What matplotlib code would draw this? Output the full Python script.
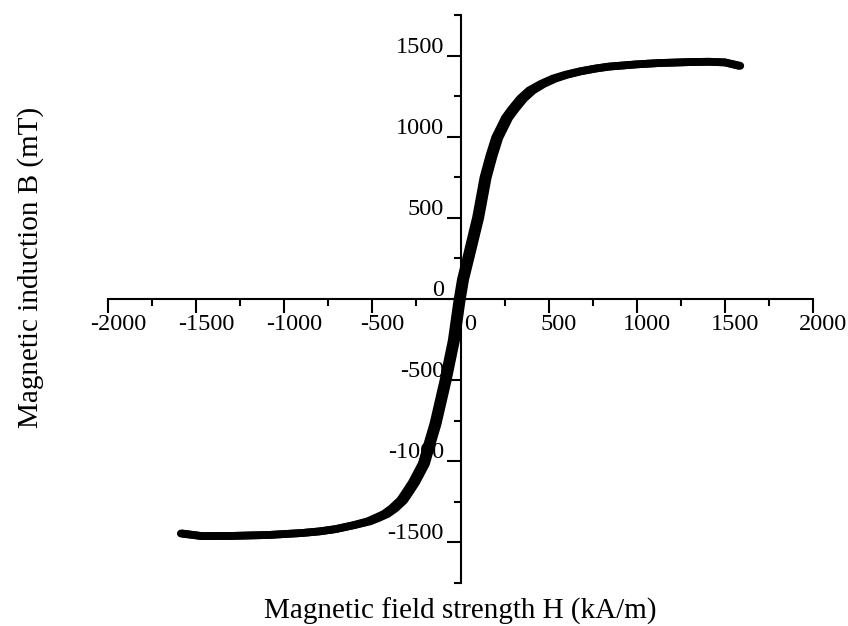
import matplotlib
matplotlib.use("Agg")

import matplotlib.pyplot as plt
import matplotlib.transforms as mtransforms
from matplotlib.ticker import MultipleLocator

plt.rcParams["font.family"] = ["Liberation Serif", "DejaVu Serif"]
plt.rcParams["axes.unicode_minus"] = False

# B-H loop of the sample (field in kA/m, induction in mT)
b_levels = [-1445, -1461, -1460, -1454, -1442, -1432, -1418, -1393, -1370,
            -1352, -1325, -1290, -1240, -1190, -1130, -1015, -890, -769, -502,
            -256, -10, 120, 256, 502, 748, 880, 994, 1117, 1170, 1235, 1285,
            1325, 1358, 1382, 1403, 1420, 1432, 1446, 1454, 1460, 1462, 1458,
            1437]
# rising branch
h_up = [-1578, -1465, -1300, -1087, -900, -800, -709, -600, -512, -470, -414,
        -368, -319, -288, -252, -196, -163, -130, -73, -26, 6, 26, 57, 112,
        154, 187, 220, 276, 312, 361, 412, 472, 538, 606, 684, 768, 843, 1001,
        1124, 1300, 1408, 1500, 1587]
# falling branch
h_down = [-1587, -1470, -1300, -1087, -900, -800, -709, -606, -528, -490, -436,
          -392, -343, -312, -276, -220, -187, -154, -97, -50, -18, 2, 33, 88,
          130, 163, 196, 252, 288, 337, 388, 454, 522, 594, 676, 762, 839, 999,
          1124, 1300, 1408, 1500, 1578]

x_ticks = [-2000, -1500, -1000, -500, 0, 500, 1000, 1500, 2000]
y_ticks = [-1500, -1000, -500, 0, 500, 1000, 1500]

fig = plt.figure(figsize=(8.48, 6.26), dpi=100)
ax = fig.add_axes([0.1274, 0.0687, 0.8314, 0.9073])

for h in (h_up, h_down):
    ax.plot(h, b_levels, color="black", lw=5.6,
            solid_capstyle="round", solid_joinstyle="round", zorder=3)

ax.set_xlim(-2000, 2000)
ax.set_ylim(-1750, 1750)

# axes crossing at the origin
ax.spines["left"].set_position(("data", 0))
ax.spines["bottom"].set_position(("data", 0))
ax.spines["top"].set_visible(False)
ax.spines["right"].set_visible(False)
for s in ("left", "bottom"):
    ax.spines[s].set_linewidth(1.5)

ax.set_xticks(x_ticks)
ax.set_yticks(y_ticks)
ax.xaxis.set_minor_locator(MultipleLocator(250))
ax.yaxis.set_minor_locator(MultipleLocator(250))
ax.tick_params(which="major", direction="out", length=10, width=1.5,
               labelsize=17.5)
ax.tick_params(axis="x", which="major", pad=1)
ax.tick_params(axis="y", which="major", pad=2)
ax.tick_params(which="minor", direction="out", length=5, width=1.5)

# shift tick labels a little, Origin-style
dx = mtransforms.ScaledTranslation(10 / 100, 0, fig.dpi_scale_trans)
dy = mtransforms.ScaledTranslation(0, 11 / 100, fig.dpi_scale_trans)
for lab in ax.get_xticklabels():
    lab.set_transform(lab.get_transform() + dx)
for lab in ax.get_yticklabels():
    lab.set_transform(lab.get_transform() + dy)

ax.set_xlabel("Magnetic field strength H (kA/m)", fontsize=21)
ax.set_ylabel("Magnetic induction B (mT)", fontsize=21)
ax.xaxis.set_label_coords(0.5, -0.026)
ax.yaxis.set_label_coords(-0.091, 0.555)

fig.savefig("out.png", dpi=100)
